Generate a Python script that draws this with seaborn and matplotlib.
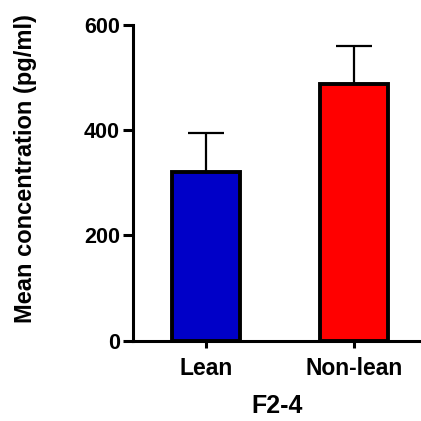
import matplotlib
matplotlib.use("Agg")
import matplotlib.pyplot as plt
import seaborn as sns
import pandas as pd
import numpy as np

# Group means and standard errors
groups = ["Lean", "Non-lean"]
means = [320, 488]
sems = [75, 72]
bar_colors = ["#0000C8", "#FF0000"]

y_ticks = [0, 200, 400, 600]
x_title = "F2-4"
y_title = "Mean concentration (pg/ml)"

sns.set_theme(style="ticks")
plt.rcParams["font.family"] = ["Liberation Sans", "DejaVu Sans"]
plt.rcParams["font.weight"] = "bold"

df = pd.DataFrame({"group": groups, "mean": means})

fig = plt.figure(figsize=(4.21, 4.21), dpi=100)
ax = fig.add_axes([133 / 421, 80.3 / 421, 288 / 421, 315.7 / 421])

sns.barplot(data=df, x="group", y="mean", hue="group", palette=bar_colors,
            saturation=1, width=0.46, edgecolor="black", linewidth=2.8,
            legend=False, errorbar=None, ax=ax, zorder=3)

# Upper-only SEM whiskers
xpos = np.arange(len(groups))
ax.errorbar(xpos, means, yerr=[np.zeros(len(sems)), sems], fmt="none",
            ecolor="black", elinewidth=1.6, capsize=13, capthick=1.6, zorder=2)

ax.set_xlim(-0.493, 1.453)
ax.set_ylim(0, 600)
ax.set_yticks(y_ticks)
ax.set_yticklabels([str(t) for t in y_ticks])

for side in ["top", "right"]:
    ax.spines[side].set_visible(False)
for side in ["left", "bottom"]:
    ax.spines[side].set_linewidth(2.2)
    ax.spines[side].set_color("black")

ax.tick_params(axis="y", direction="out", length=7, width=2.2, pad=2.5,
               labelsize=15.5, colors="black")
ax.tick_params(axis="x", direction="out", length=5, width=2.2, pad=7,
               labelsize=16.5, colors="black")
for lab in ax.get_xticklabels() + ax.get_yticklabels():
    lab.set_fontweight("bold")

ax.set_xlabel(x_title, fontsize=18, fontweight="bold", labelpad=10, color="black")
ax.set_ylabel(y_title, fontsize=17, fontweight="bold", color="black")
ax.yaxis.set_label_coords(-0.335, 0.545)

fig.savefig("out.png", dpi=100, facecolor="white")
